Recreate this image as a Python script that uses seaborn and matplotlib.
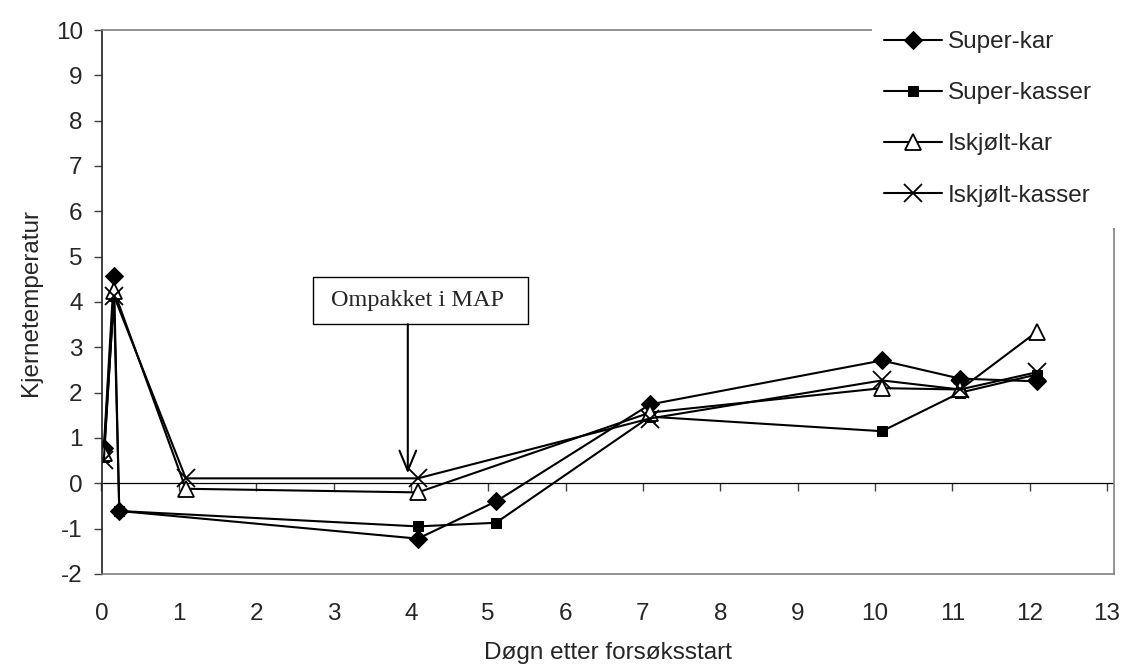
import matplotlib
matplotlib.use("Agg")
import matplotlib.pyplot as plt
from matplotlib.patches import Rectangle
import seaborn as sns
import pandas as pd

sns.set_theme(style="white")
plt.rcParams['font.family'] = ['Liberation Sans', 'DejaVu Sans']
plt.rcParams['axes.unicode_minus'] = False

# Data (days after start, core temperature)
super_kar_x = [0.03, 0.16, 0.23, 4.09, 5.1, 7.09, 10.09, 11.1, 12.09]
super_kar_y = [0.77, 4.58, -0.61, -1.22, -0.40, 1.74, 2.71, 2.31, 2.25]

super_kasser_x = [0.03, 0.16, 0.23, 4.09, 5.1, 7.09, 10.09, 11.1, 12.09]
super_kasser_y = [0.58, 4.13, -0.61, -0.95, -0.87, 1.47, 1.15, 2.00, 2.40]

iskjolt_kar_x = [0.03, 0.16, 1.09, 4.09, 7.09, 10.09, 11.1, 12.09]
iskjolt_kar_y = [0.68, 4.25, -0.12, -0.20, 1.56, 2.10, 2.07, 3.34]

iskjolt_kasser_x = [0.03, 0.16, 1.09, 4.09, 7.09, 10.09, 11.1, 12.09]
iskjolt_kasser_y = [0.51, 4.14, 0.11, 0.11, 1.43, 2.27, 2.07, 2.45]

labels = ["Super-kar", "Super-kasser", "Iskjølt-kar", "Iskjølt-kasser"]
x_ticks = list(range(0, 14))
y_ticks = list(range(-2, 11))
annotation = "Ompakket i MAP"
annot_day = 3.96      # repacking day (arrow position)
annot_tip = 0.22

FS = 17.5
W, H = 1123, 671
fig = plt.figure(figsize=(W / 100, H / 100), dpi=100)
ax = fig.add_axes([101.5 / W, (H - 574) / H, (1114 - 101.5) / W, (574 - 30) / H])

series = [
    (super_kar_x, super_kar_y, labels[0], dict(marker='D', markersize=9, markerfacecolor='black')),
    (super_kasser_x, super_kasser_y, labels[1], dict(marker='s', markersize=7.5, markerfacecolor='black')),
    (iskjolt_kar_x, iskjolt_kar_y, labels[2], dict(marker='^', markersize=11, markerfacecolor='white', markeredgewidth=1.3)),
    (iskjolt_kasser_x, iskjolt_kasser_y, labels[3], dict(marker='x', markersize=13, markeredgewidth=1.3)),
]
for xs, ys, lab, kw in series:
    df = pd.DataFrame({"x": xs, "y": ys})
    sns.lineplot(data=df, x="x", y="y", ax=ax, sort=False, color='black',
                 linewidth=1.5, markeredgecolor='black', label=lab, **kw)

ax.set_xlim(0, 13.09)
ax.set_ylim(-2, 10)
ax.set_xticks(x_ticks)
ax.set_yticks(y_ticks)
ax.tick_params(axis='x', length=0, labelsize=FS, pad=21)
ax.tick_params(axis='y', length=5.5, width=1, direction='out', labelsize=FS, left=True,
               pad=8, color='#404040')
ax.set_xlabel("Døgn etter forsøksstart", fontsize=FS, labelpad=12)
ax.set_ylabel("Kjernetemperatur", fontsize=FS, labelpad=10)
ax.spines['left'].set_color('#202020')
for s in ['top', 'right', 'bottom']:
    ax.spines[s].set_color('#808080')
for s in ax.spines.values():
    s.set_linewidth(1.2)

# zero line with ticks
ax.axhline(0, color='black', linewidth=0.9, zorder=1)
sec = ax.secondary_xaxis(2 / 12)
sec.set_xticks(x_ticks)
sec.tick_params(axis='x', length=6, width=1, direction='out', labelbottom=False,
                labeltop=False, color='#404040')
sec.spines['bottom'].set_visible(False)
sec.spines['top'].set_visible(False)

# annotation box + arrow
box_x0, box_x1, box_y0, box_y1 = 2.735, 5.515, 3.51, 4.56
ax.add_patch(Rectangle((box_x0, box_y0), box_x1 - box_x0, box_y1 - box_y0,
                       facecolor='white', edgecolor='black', lw=1.0, zorder=4))
ax.text((box_x0 + box_x1) / 2 - 0.04, (box_y0 + box_y1) / 2, annotation,
        ha='center', va='center', fontsize=FS, family='Liberation Serif', zorder=5)
ax.annotate("", xy=(annot_day, annot_tip), xytext=(annot_day, box_y0),
            arrowprops=dict(arrowstyle='->,head_length=1.2,head_width=0.5', color='black', lw=1.5,
                            shrinkA=0, shrinkB=0), zorder=5)

# white region covering the frame behind the legend
fig.patches.append(Rectangle((872 / W, (H - 228) / H), 1 - 872 / W, 228 / H,
                             transform=fig.transFigure, facecolor='white',
                             edgecolor='none', zorder=5))
handles, labs = ax.get_legend_handles_labels()
ax.get_legend().remove()
fig.legend(handles, labs, loc='upper left', bbox_to_anchor=(884 / W, 1 - 31 / H),
           fontsize=FS, frameon=False, handlelength=2.39, labelspacing=1.2,
           borderpad=0, borderaxespad=0, handletextpad=0.25).set_zorder(6)

fig.savefig("out.png", dpi=100, facecolor='white')
